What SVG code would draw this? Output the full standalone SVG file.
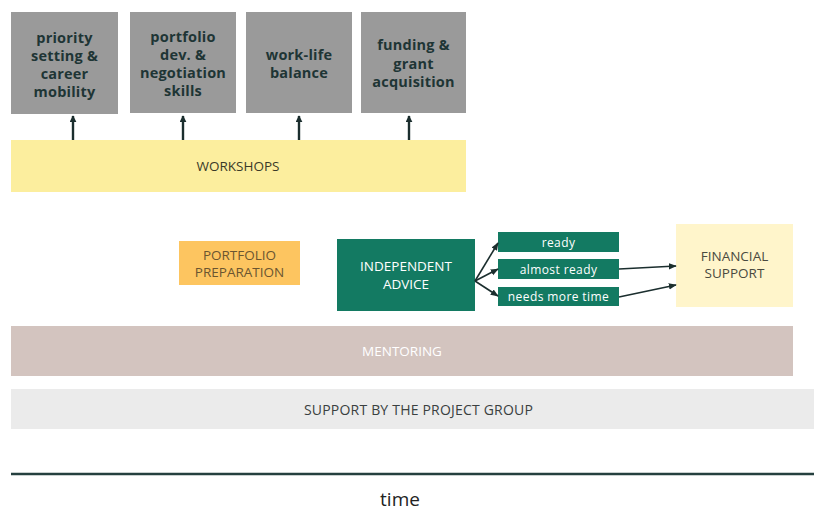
<svg xmlns="http://www.w3.org/2000/svg" width="814" height="513" viewBox="0 0 814 513">
<style>
text{font-family:"Open Sans",Lato,"Liberation Sans",sans-serif;text-anchor:middle;dominant-baseline:central}
.top rect{fill:#9a9a9a}
.top text{font-weight:bold;font-size:14.5px;letter-spacing:0.2px;fill:#1e3535}
.cap{font-size:13.5px}
.opt rect{fill:#137a62}
.opt text{fill:#fff;font-size:12px;letter-spacing:0.4px}
.conn line{stroke:#1b2e2e;stroke-width:1.6;fill:none}
.conn .up{stroke-width:2.4}
</style>
<defs>
<marker id="ah" viewBox="0 0 10 10" refX="9" refY="5" markerWidth="7" markerHeight="7" orient="auto" markerUnits="userSpaceOnUse">
<path d="M0,0 L10,5 L0,10 z" fill="#1b2e2e"/>
</marker>
<marker id="ah2" viewBox="0 0 10 10" refX="9" refY="5" markerWidth="8" markerHeight="8" orient="auto" markerUnits="userSpaceOnUse">
<path d="M0,1 L10,5 L0,9 z" fill="#1b2e2e"/>
</marker>
</defs>

<g id="priority" class="top">
<rect x="11" y="12" width="107" height="102"/>
<text x="64.5" y="37">priority</text>
<text x="64.5" y="55">setting &amp;</text>
<text x="64.5" y="73">career</text>
<text x="64.5" y="91">mobility</text>
</g>
<g id="portfolio-dev" class="top">
<rect x="130" y="12" width="106" height="101"/>
<text x="183" y="36">portfolio</text>
<text x="183" y="54">dev. &amp;</text>
<text x="183" y="72">negotiation</text>
<text x="183" y="90">skills</text>
</g>
<g id="work-life" class="top">
<rect x="246" y="12" width="106" height="101"/>
<text x="299" y="54">work-life</text>
<text x="299" y="72">balance</text>
</g>
<g id="funding" class="top">
<rect x="361" y="12" width="105" height="101"/>
<text x="413.5" y="44">funding &amp;</text>
<text x="413.5" y="63">grant</text>
<text x="413.5" y="81">acquisition</text>
</g>

<g id="workshops">
<rect x="11" y="140" width="455" height="52" fill="#fcee9e"/>
<text x="238" y="166" class="cap" fill="#3a3a28">WORKSHOPS</text>
</g>

<g id="portfolio-prep">
<rect x="179" y="241" width="121" height="44" fill="#fdc560"/>
<text x="239.5" y="254.5" class="cap" fill="#6b5530">PORTFOLIO</text>
<text x="239.5" y="272" class="cap" fill="#6b5530">PREPARATION</text>
</g>

<g id="independent-advice">
<rect x="337" y="239" width="138" height="72" fill="#137a62"/>
<text x="406" y="266" class="cap" fill="#ffffff">INDEPENDENT</text>
<text x="406" y="284" class="cap" fill="#ffffff">ADVICE</text>
</g>

<g id="ready" class="opt">
<rect x="498" y="232" width="121" height="20"/>
<text x="558.5" y="242">ready</text>
</g>
<g id="almost-ready" class="opt">
<rect x="498" y="259" width="121" height="20"/>
<text x="558.5" y="269">almost ready</text>
</g>
<g id="needs-more-time" class="opt">
<rect x="498" y="287" width="121" height="19"/>
<text x="558.5" y="296.5">needs more time</text>
</g>

<g id="financial-support">
<rect x="676" y="224" width="117" height="83" fill="#fff5cb"/>
<text x="734.5" y="255.5" class="cap" fill="#4a4a40">FINANCIAL</text>
<text x="734.5" y="273" class="cap" fill="#4a4a40">SUPPORT</text>
</g>

<g id="mentoring">
<rect x="11" y="326" width="782" height="50" fill="#d3c4bf"/>
<text x="402" y="351" class="cap" fill="#ffffff">MENTORING</text>
</g>

<g id="project-group">
<rect x="11" y="389" width="803" height="40" fill="#ebebeb"/>
<text x="418.5" y="409" font-size="14" letter-spacing="0.2" fill="#3a4040">SUPPORT BY THE PROJECT GROUP</text>
</g>

<g id="timeline">
<line x1="11" y1="474" x2="814" y2="474" stroke="#25403f" stroke-width="2.5"/>
<text x="400" y="499" font-size="19" fill="#222">time</text>
</g>

<g id="connectors" class="conn">
<line class="up" x1="73" y1="140" x2="73" y2="116" marker-end="url(#ah)"/>
<line class="up" x1="183" y1="140" x2="183" y2="116" marker-end="url(#ah)"/>
<line class="up" x1="299" y1="140" x2="299" y2="116" marker-end="url(#ah)"/>
<line class="up" x1="409" y1="140" x2="409" y2="116" marker-end="url(#ah)"/>
<line x1="475" y1="281" x2="498" y2="243" marker-end="url(#ah2)"/>
<line x1="475" y1="281" x2="498" y2="269" marker-end="url(#ah2)"/>
<line x1="475" y1="281" x2="498" y2="296" marker-end="url(#ah2)"/>
<line x1="619" y1="269" x2="676" y2="266" marker-end="url(#ah2)"/>
<line x1="619" y1="297" x2="676" y2="285" marker-end="url(#ah2)"/>
</g>
</svg>
